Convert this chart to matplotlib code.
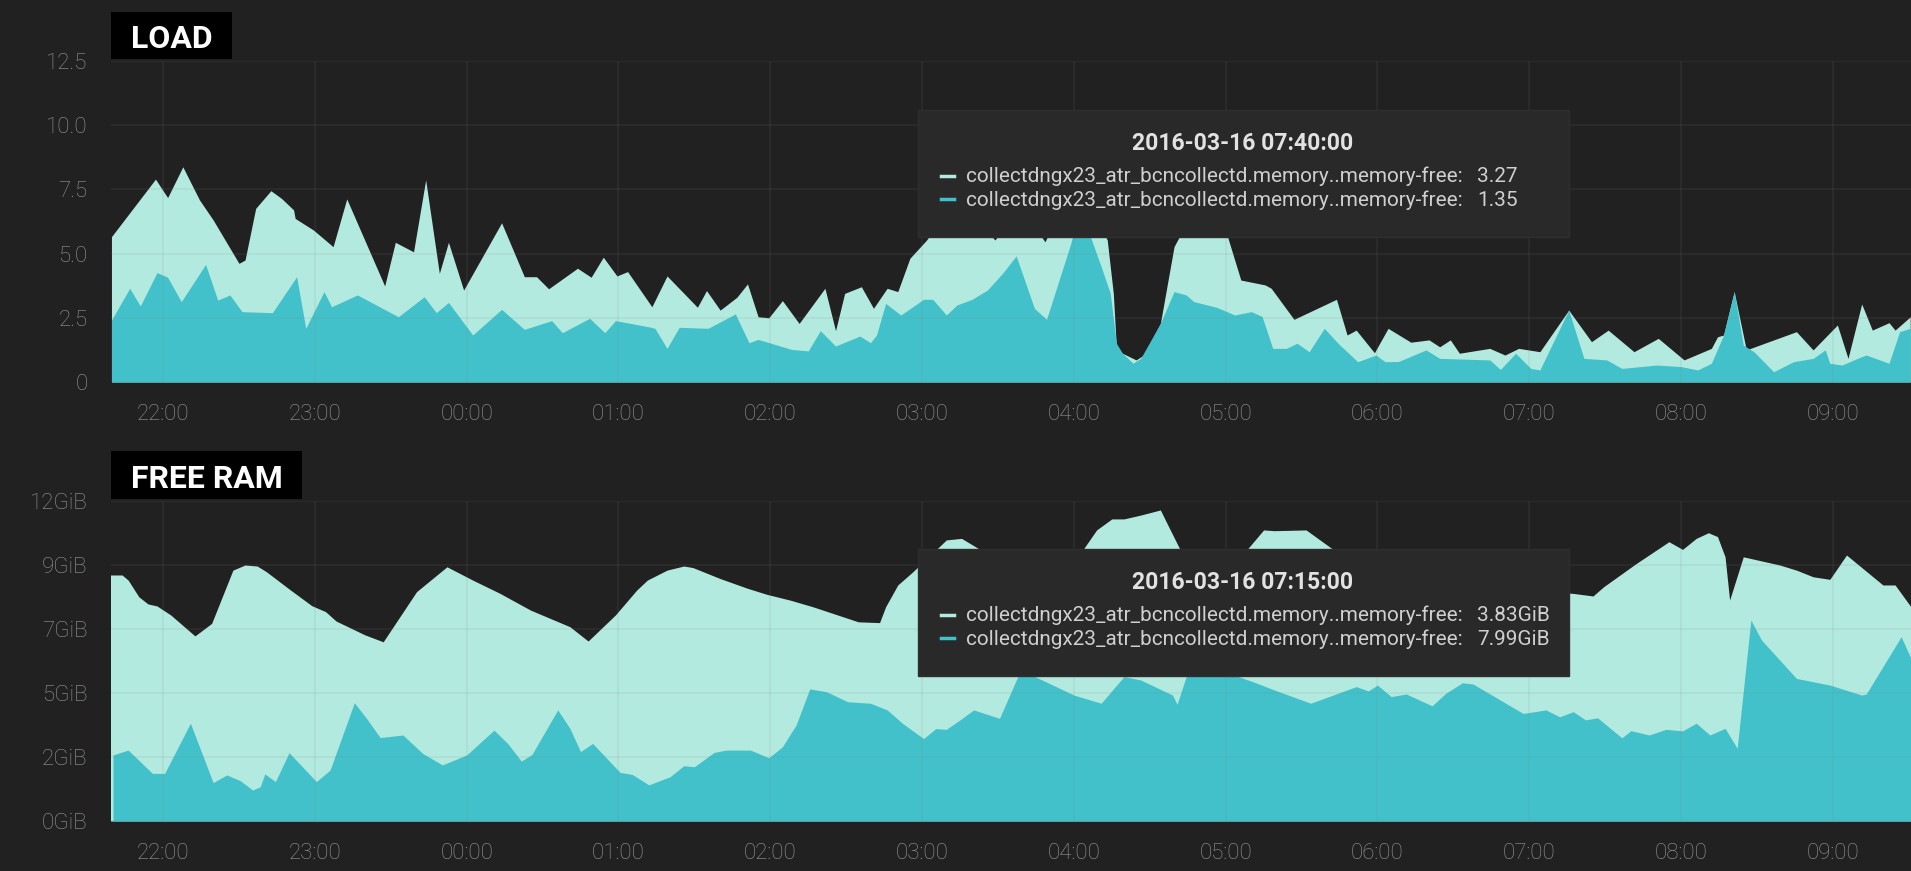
import matplotlib
matplotlib.use('Agg')
import matplotlib.pyplot as plt
from matplotlib.patches import Rectangle
from matplotlib.lines import Line2D

# time axis in hours (values above 24 are the next morning)
load_a_t = [21.66, 21.95, 22.03, 22.13, 22.24, 22.33, 22.50, 22.54, 22.61, 22.71, 22.78, 22.86, 22.87, 22.99,
            23.12, 23.21, 23.46, 23.53, 23.65, 23.73, 23.82, 23.88, 23.98, 24.23, 24.38, 24.46, 24.54, 24.73,
            24.82, 24.90, 24.99, 25.06, 25.22, 25.32, 25.52, 25.58, 25.67, 25.78, 25.85, 25.92, 25.99, 26.08,
            26.19, 26.36, 26.43, 26.49, 26.60, 26.68, 26.77, 26.84, 26.92, 27.03, 27.12, 27.32, 27.48, 27.65,
            27.81, 28.01, 28.14, 28.22, 28.26, 28.28, 28.32, 28.41, 28.46, 28.57, 28.66, 28.77, 28.90, 29.00,
            29.10, 29.26, 29.30, 29.45, 29.73, 29.80, 29.86, 29.98, 30.07, 30.22, 30.34, 30.41, 30.48, 30.54,
            30.74, 30.84, 30.93, 31.07, 31.26, 31.41, 31.52, 31.69, 31.85, 32.02, 32.20, 32.24, 32.28, 32.35,
            32.43, 32.76, 32.87, 33.03, 33.10, 33.19, 33.26, 33.37, 33.41, 33.51]
load_a = [5.66, 7.90, 7.18, 8.38, 7.09, 6.31, 4.62, 4.75, 6.76, 7.45, 7.15, 6.70, 6.37, 5.92,
          5.27, 7.13, 3.74, 5.44, 5.07, 7.87, 4.23, 5.44, 3.58, 6.20, 4.10, 4.10, 3.63, 4.43,
          4.08, 4.86, 4.13, 4.30, 2.93, 4.13, 2.91, 3.56, 2.80, 3.30, 3.82, 2.54, 2.50, 3.17,
          2.28, 3.65, 2.00, 3.45, 3.71, 2.87, 3.65, 3.52, 4.82, 5.53, 6.30, 6.60, 5.53, 6.80,
          5.46, 8.00, 6.50, 5.53, 3.45, 1.37, 1.12, 0.86, 1.05, 2.28, 5.27, 6.50, 6.20, 5.90,
          3.97, 3.78, 3.65, 2.44, 3.22, 1.83, 2.02, 1.14, 2.09, 1.55, 1.64, 1.37, 1.64, 1.12,
          1.31, 1.05, 1.31, 1.18, 2.80, 1.57, 2.02, 1.18, 1.70, 0.86, 1.31, 1.76, 1.83, 3.52,
          1.25, 1.96, 1.25, 2.22, 0.92, 3.04, 2.02, 2.31, 2.02, 2.54]

load_b_t = [21.66, 21.78, 21.85, 21.96, 22.03, 22.12, 22.28, 22.36, 22.44, 22.52, 22.72, 22.88, 22.94, 23.06,
            23.11, 23.28, 23.55, 23.72, 23.80, 23.88, 24.04, 24.23, 24.38, 24.56, 24.63, 24.81, 24.91, 24.98,
            25.20, 25.24, 25.32, 25.40, 25.59, 25.77, 25.86, 25.92, 26.14, 26.25, 26.33, 26.43, 26.59, 26.66,
            26.70, 26.76, 26.86, 27.01, 27.07, 27.16, 27.23, 27.33, 27.43, 27.53, 27.62, 27.74, 27.82, 27.98,
            28.04, 28.18, 28.24, 28.28, 28.32, 28.39, 28.44, 28.57, 28.66, 28.74, 28.79, 28.94, 29.06, 29.17,
            29.24, 29.31, 29.40, 29.47, 29.55, 29.65, 29.74, 29.87, 29.99, 30.05, 30.14, 30.32, 30.41, 30.74,
            30.81, 30.91, 31.01, 31.07, 31.26, 31.36, 31.51, 31.61, 31.84, 32.00, 32.11, 32.20, 32.28, 32.35,
            32.41, 32.48, 32.61, 32.74, 32.87, 32.95, 32.98, 33.06, 33.19, 33.22, 33.37, 33.44, 33.51]
load_b = [2.41, 3.65, 2.96, 4.26, 4.08, 3.13, 4.58, 3.19, 3.39, 2.74, 2.70, 4.10, 2.09, 3.52,
          2.93, 3.39, 2.54, 3.32, 2.70, 3.10, 1.83, 2.83, 2.05, 2.39, 1.92, 2.48, 1.92, 2.39,
          2.15, 2.09, 1.31, 2.13, 2.09, 2.65, 1.53, 1.66, 1.27, 1.21, 2.00, 1.40, 1.79, 1.53,
          1.83, 3.06, 2.61, 3.22, 3.22, 2.61, 3.00, 3.22, 3.58, 4.23, 4.91, 2.87, 2.44, 5.40,
          6.80, 4.49, 3.45, 1.51, 1.12, 0.73, 0.92, 2.28, 3.52, 3.39, 3.13, 2.91, 2.61, 2.74,
          2.55, 1.31, 1.31, 1.51, 1.18, 2.09, 1.51, 0.79, 1.05, 0.79, 0.80, 1.25, 0.92, 0.86,
          0.49, 1.12, 0.53, 0.47, 2.80, 0.92, 0.86, 0.53, 0.66, 0.60, 0.47, 0.73, 1.83, 3.52,
          1.44, 1.18, 0.40, 0.79, 0.92, 1.25, 0.73, 0.66, 0.99, 1.05, 0.73, 1.96, 2.09]

# free memory in GB (1e9 bytes)
ram_a_t = [21.65, 21.73, 21.77, 21.84, 21.90, 21.96, 22.05, 22.21, 22.32, 22.46, 22.54, 22.62, 22.68, 22.84,
           22.98, 23.07, 23.14, 23.33, 23.45, 23.67, 23.87, 24.04, 24.22, 24.42, 24.68, 24.80, 24.98, 25.12,
           25.19, 25.32, 25.43, 25.49, 25.67, 25.85, 25.98, 26.13, 26.28, 26.58, 26.72, 26.76, 26.84, 26.94,
           27.16, 27.26, 27.37, 27.71, 28.06, 28.15, 28.25, 28.33, 28.44, 28.57, 28.63, 28.70, 28.93, 29.14,
           29.25, 29.32, 29.53, 29.71, 30.14, 30.67, 31.07, 31.29, 31.42, 31.49, 31.70, 31.92, 32.01, 32.10,
           32.18, 32.24, 32.29, 32.32, 32.41, 32.65, 32.76, 32.87, 32.98, 33.09, 33.33, 33.41, 33.53]
ram_a = [9.61, 9.61, 9.41, 8.76, 8.48, 8.40, 8.05, 7.23, 7.72, 9.80, 10.00, 9.96, 9.74, 9.02,
         8.41, 8.18, 7.81, 7.27, 7.00, 8.96, 9.93, 9.41, 8.89, 8.24, 7.59, 7.03, 8.05, 9.02,
         9.41, 9.80, 9.96, 9.90, 9.47, 9.09, 8.85, 8.63, 8.37, 7.78, 7.75, 8.37, 9.22, 9.74,
         10.98, 11.04, 10.65, 10.30, 10.60, 11.37, 11.80, 11.80, 11.95, 12.15, 11.43, 10.60, 9.80, 10.60,
         11.37, 11.34, 11.37, 10.60, 10.00, 9.40, 9.00, 8.89, 8.79, 9.15, 10.04, 10.91, 10.61, 11.04,
         11.26, 11.11, 10.32, 8.63, 10.32, 10.00, 9.80, 9.54, 9.44, 10.39, 9.22, 9.22, 8.24]

ram_b_t = [21.67, 21.77, 21.93, 22.01, 22.18, 22.33, 22.42, 22.51, 22.59, 22.64, 22.67, 22.74, 22.83, 23.01,
           23.10, 23.26, 23.34, 23.43, 23.58, 23.71, 23.84, 24.00, 24.18, 24.27, 24.36, 24.43, 24.60, 24.68,
           24.75, 24.83, 25.01, 25.09, 25.20, 25.34, 25.43, 25.50, 25.63, 25.71, 25.87, 25.99, 26.08, 26.17,
           26.26, 26.37, 26.51, 26.66, 26.77, 26.87, 27.01, 27.09, 27.16, 27.25, 27.34, 27.51, 27.65, 27.84,
           28.00, 28.18, 28.33, 28.44, 28.65, 28.68, 28.74, 28.96, 29.18, 29.32, 29.56, 29.86, 29.94, 30.00,
           30.09, 30.19, 30.36, 30.45, 30.56, 30.63, 30.96, 31.11, 31.20, 31.29, 31.37, 31.45, 31.61, 31.67,
           31.79, 31.90, 32.01, 32.10, 32.19, 32.29, 32.37, 32.46, 32.53, 32.76, 32.98, 33.19, 33.22, 33.45, 33.53]
ram_b = [2.58, 2.77, 1.86, 1.86, 3.82, 1.50, 1.80, 1.57, 1.21, 1.34, 1.84, 1.54, 2.67, 1.54,
         1.99, 4.62, 4.01, 3.26, 3.36, 2.64, 2.19, 2.58, 3.55, 3.03, 2.34, 2.60, 4.34, 3.62,
         2.71, 3.03, 1.90, 1.82, 1.41, 1.73, 2.16, 2.12, 2.68, 2.77, 2.77, 2.47, 2.90, 3.75,
         5.16, 5.05, 4.66, 4.60, 4.34, 3.82, 3.22, 3.61, 3.58, 3.95, 4.34, 4.01, 5.90, 5.37,
         4.92, 4.60, 5.64, 5.51, 4.92, 4.56, 5.64, 5.90, 5.44, 5.12, 4.60, 5.25, 5.08, 5.31,
         4.86, 4.96, 4.50, 4.99, 5.40, 5.35, 4.20, 4.34, 4.07, 4.27, 3.95, 4.03, 3.25, 3.53,
         3.36, 3.58, 3.52, 3.82, 3.36, 3.62, 2.84, 7.85, 7.07, 5.57, 5.31, 4.92, 4.96, 7.20, 6.15]

hour_ticks = list(range(22, 34))
hour_labels = ['%02d:00' % (h % 24) for h in hour_ticks]
y_ticks = [0, 2.5, 5, 7.5, 10, 12.5]
load_labels = ['0', '2.5', '5.0', '7.5', '10.0', '12.5']
ram_labels = ['%.0fGiB' % (v * 1e9 / 2 ** 30) for v in y_ticks]

series_name = 'collectdngx23_atr_bcncollectd.memory..memory-free:'
load_tip = ('2016-03-16 07:40:00', ['3.27', '1.35'])
ram_tip = ('2016-03-16 07:15:00', ['3.83GiB', '7.99GiB'])

BG = '#212121'
LIGHT = '#b3eadf'
TEAL = '#42c1ca'
TICK = '#979797'

plt.rcParams['font.family'] = ['Roboto', 'DejaVu Sans']

W, H = 1911, 871
fig = plt.figure(figsize=(W / 100, H / 100), dpi=100, facecolor=BG)


def fx(x):
    return x / W


def fy(y):
    return 1 - y / H


def panel(top, bottom, ta, a, tb, b, labels):
    ax = fig.add_axes([fx(111), fy(bottom), 1 - fx(111), fy(top) - fy(bottom)])
    ax.set_facecolor(BG)
    ax.fill_between(ta, 0, a, color=LIGHT, lw=0)
    ax.fill_between(tb, 0, b, color=TEAL, lw=0)
    ax.set_xlim(21.657, 33.515)
    ax.set_ylim(0, 12.5)
    ax.set_xticks(hour_ticks)
    ax.set_xticklabels(hour_labels)
    ax.set_yticks(y_ticks)
    ax.set_yticklabels(labels)
    ax.grid(True, color='#808080', alpha=0.11, lw=1.3)
    ax.set_axisbelow(False)
    for s in ax.spines.values():
        s.set_visible(False)
    ax.tick_params(axis='both', length=0, labelsize=16, labelcolor=TICK)
    ax.tick_params(axis='x', pad=16)
    ax.tick_params(axis='y', pad=17)
    for lbl in ax.get_xticklabels() + ax.get_yticklabels():
        lbl.set_fontweight('light')
    return ax


ax1 = panel(61, 382, load_a_t, load_a, load_b_t, load_b, load_labels)
ax2 = panel(501, 821, ram_a_t, ram_a, ram_b_t, ram_b, ram_labels)


def title_box(x0, x1, y0, y1, text, baseline):
    fig.add_artist(Rectangle((fx(x0), fy(y1)), fx(x1) - fx(x0), fy(y0) - fy(y1),
                             transform=fig.transFigure, facecolor='black', lw=0))
    fig.text(fx((x0 + x1) / 2), fy(baseline), text, ha='center', va='baseline',
             color='white', fontsize=23, fontweight='bold')


title_box(111, 232, 12, 59, 'LOAD', 48.5)
title_box(111, 302, 451, 499, 'FREE RAM', 488)

fit = []
values_txt = []


def tooltip(y0, tip):
    stamp, values = tip
    fig.add_artist(Rectangle((fx(918), fy(y0 + 127)), fx(1569) - fx(918), 127 / H,
                             transform=fig.transFigure, facecolor='#292929',
                             edgecolor='#2f2f2f', lw=1))
    t = fig.text(fx(1243), fy(y0 + 39.5), stamp, ha='center', va='baseline',
                 color='#e2e2e2', fontsize=17, fontweight='bold')
    fit.append((t, 222))
    for i, (c, v) in enumerate(zip([LIGHT, TEAL], values)):
        yy = y0 + 66 + 23 * i
        fig.add_artist(Line2D([fx(941), fx(954)], [fy(yy), fy(yy)], color=c, lw=2.5,
                              transform=fig.transFigure))
        n = fig.text(fx(966), fy(y0 + 72 + 23.5 * i), series_name, ha='left', va='baseline',
                     color='#cfcfcf', fontsize=14)
        fit.append((n, 500))
        values_txt.append(fig.text(fx(1477), fy(y0 + 72 + 23.5 * i), v, ha='left',
                                   va='baseline', color='#cfcfcf', fontsize=14))


tooltip(110, load_tip)
tooltip(549, ram_tip)

# match the tooltip text width to the dashboard's
fig.canvas.draw()
r = fig.canvas.get_renderer()
for t, target in fit:
    w = t.get_window_extent(r).width
    t.set_fontsize(t.get_fontsize() * target / w)
for t in values_txt:
    t.set_fontsize(fit[1][0].get_fontsize())

fig.savefig('out.png', dpi=100, facecolor=BG)
